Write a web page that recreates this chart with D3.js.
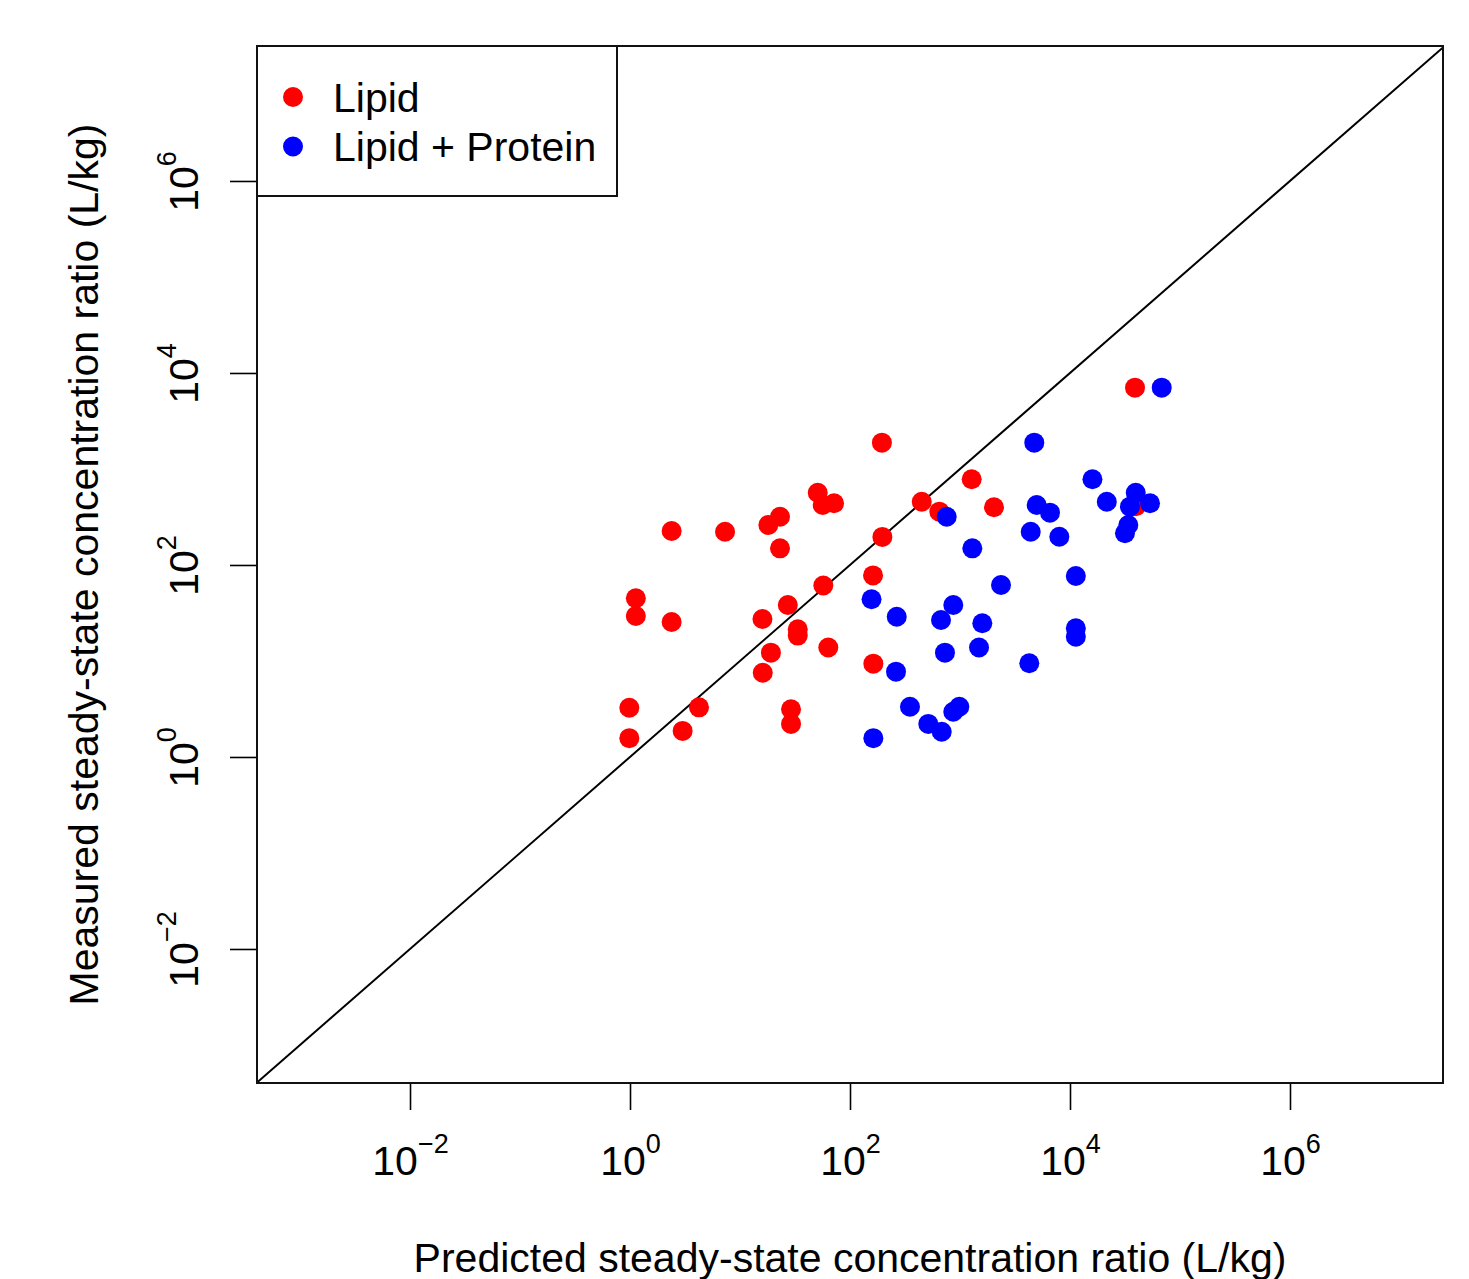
<!DOCTYPE html>
<html>
<head>
<meta charset="utf-8">
<script src="https://cdn.jsdelivr.net/npm/d3@7"></script>
<style>
    body { margin: 0; background: #fff; }
    text { font-family: "Liberation Sans", Arial, sans-serif; fill: #000; }
</style>
</head>
<body>
<svg id="chart"></svg>
<script>
// predicted (x) and measured (y) steady-state concentration ratios, L/kg
var lipidX = [3.9e4, 195, 1277, 2037, 449, 649, 50.9, 56.5, 71.6, 23.1, 18.1, 23.1, 2.39, 7.31, 197, 162,
    57.2, 1.13, 1.13, 2.39, 27.2, 16.0, 33.5, 33.5, 63.5, 19.1, 16.1, 163, 0.986, 4.24, 0.986, 3.01, 29.1, 29.1, 3.98e4];
var lipidY = [7030, 1880, 781, 399, 456, 359, 566, 422, 439, 318, 261, 149, 226, 222, 196, 77.8,
    61.1, 45.0, 29.4, 25.5, 38.3, 27.4, 21.4, 18.4, 13.8, 12.2, 7.55, 9.38, 3.26, 3.29, 1.57, 1.87, 3.14, 2.21, 410];
var proteinX = [6.82e4, 4735, 1.6e4, 2.16e4, 3.96e4, 5.34e4, 3.51e4, 4980, 6580, 757, 4395, 8000, 3.39e4, 3.16e4,
    1294, 1.13e4, 2360, 157, 266, 869, 672, 1595, 1.13e4, 1.13e4, 1489, 730, 262, 4266, 351, 986, 869, 515, 682, 163];
var proteinY = [7030, 1880, 781, 456, 566, 439, 405, 422, 351, 318, 222, 197, 261, 214,
    149, 76.8, 61.9, 43.9, 28.9, 38.3, 26.7, 24.7, 21.9, 17.9, 13.8, 12.2, 7.74, 9.46, 3.34, 3.34, 2.96, 2.21, 1.83, 1.57];

var tickExps = [-2, 0, 2, 4, 6];
var seriesNames = ["Lipid", "Lipid + Protein"];
var seriesColors = ["#ff0000", "#0000ff"];

var W = 1469, H = 1279;
var plot = {left: 257, right: 1443, top: 46, bottom: 1083};
var fs = "41px", fsSup = "27px";

var svg = d3.select("#chart").attr("width", W).attr("height", H);

var x = d3.scaleLog()
    .domain([Math.pow(10, -3.391), Math.pow(10, 7.391)])
    .range([plot.left, plot.right]);
var y = d3.scaleLog()
    .domain([Math.pow(10, -3.396), Math.pow(10, 7.406)])
    .range([plot.bottom, plot.top]);

var tickVals = tickExps.map(function (e) { return Math.pow(10, e); });

svg.append("clipPath").attr("id", "plotClip")
    .append("rect")
    .attr("x", plot.left).attr("y", plot.top)
    .attr("width", plot.right - plot.left).attr("height", plot.bottom - plot.top);

// 1:1 line
var dom = x.domain();
svg.append("line")
    .attr("clip-path", "url(#plotClip)")
    .attr("x1", x(dom[0])).attr("y1", y(dom[0]))
    .attr("x2", x(dom[1])).attr("y2", y(dom[1]))
    .attr("stroke", "#000").attr("stroke-width", 2);

// points
function drawPoints(xs, ys, color) {
    svg.append("g").selectAll("circle")
        .data(xs.map(function (d, i) { return [d, ys[i]]; }))
        .enter().append("circle")
        .attr("cx", function (d) { return x(d[0]); })
        .attr("cy", function (d) { return y(d[1]); })
        .attr("r", 10)
        .attr("fill", color);
}
drawPoints(lipidX, lipidY, seriesColors[0]);
drawPoints(proteinX, proteinY, seriesColors[1]);

function supLabel(sel, i) {
    sel.append("tspan").text("10");
    sel.append("tspan").attr("dy", -22).style("font-size", fsSup)
        .text(tickExps[i] < 0 ? "\u2212" + (-tickExps[i]) : tickExps[i]);
}

// axes
var gx = svg.append("g")
    .attr("transform", "translate(0," + plot.bottom + ")")
    .call(d3.axisBottom(x).tickValues(tickVals).tickSize(27).tickSizeOuter(0).tickFormat(""));
gx.select(".domain").remove();
gx.selectAll(".tick line").attr("stroke", "#000").attr("stroke-width", 1.6);
gx.selectAll(".tick text").remove();
gx.selectAll(".tick").each(function (d, i) {
    var t = d3.select(this).append("text")
        .attr("x", 0).attr("y", 92)
        .attr("text-anchor", "middle")
        .style("font-size", fs);
    supLabel(t, i);
});
gx.append("line")
    .attr("x1", x(tickVals[0])).attr("x2", x(tickVals[tickVals.length - 1]))
    .attr("stroke", "#000").attr("stroke-width", 2);

var gy = svg.append("g")
    .attr("transform", "translate(" + plot.left + ",0)")
    .call(d3.axisLeft(y).tickValues(tickVals).tickSize(27).tickSizeOuter(0).tickFormat(""));
gy.select(".domain").remove();
gy.selectAll(".tick line").attr("stroke", "#000").attr("stroke-width", 1.6);
gy.selectAll(".tick text").remove();
gy.selectAll(".tick").each(function (d, i) {
    var t = d3.select(this).append("text")
        .attr("transform", "rotate(-90)")
        .attr("x", 0).attr("y", -59)
        .attr("text-anchor", "middle")
        .style("font-size", fs);
    supLabel(t, i);
});
gy.append("line")
    .attr("y1", y(tickVals[0])).attr("y2", y(tickVals[tickVals.length - 1]))
    .attr("stroke", "#000").attr("stroke-width", 2);

// box
svg.append("rect")
    .attr("x", plot.left).attr("y", plot.top)
    .attr("width", plot.right - plot.left).attr("height", plot.bottom - plot.top)
    .attr("fill", "none").attr("stroke", "#111").attr("stroke-width", 2);

// axis titles
svg.append("text")
    .attr("x", (plot.left + plot.right) / 2).attr("y", 1272)
    .attr("text-anchor", "middle")
    .style("font-size", fs)
    .text("Predicted steady-state concentration ratio (L/kg)");
svg.append("text")
    .attr("transform", "translate(98," + ((plot.top + plot.bottom) / 2) + ") rotate(-90)")
    .attr("text-anchor", "middle")
    .style("font-size", fs)
    .text("Measured steady-state concentration ratio (L/kg)");

// legend
var lg = svg.append("g");
lg.append("rect")
    .attr("x", plot.left).attr("y", plot.top)
    .attr("width", 360).attr("height", 150)
    .attr("fill", "#fff").attr("stroke", "#111").attr("stroke-width", 2);
seriesNames.forEach(function (name, i) {
    lg.append("circle")
        .attr("cx", 293).attr("cy", 97 + i * 49.5)
        .attr("r", 10).attr("fill", seriesColors[i]);
    lg.append("text")
        .attr("x", 333).attr("y", 112 + i * 49)
        .style("font-size", fs)
        .text(name);
});
</script>
</body>
</html>
